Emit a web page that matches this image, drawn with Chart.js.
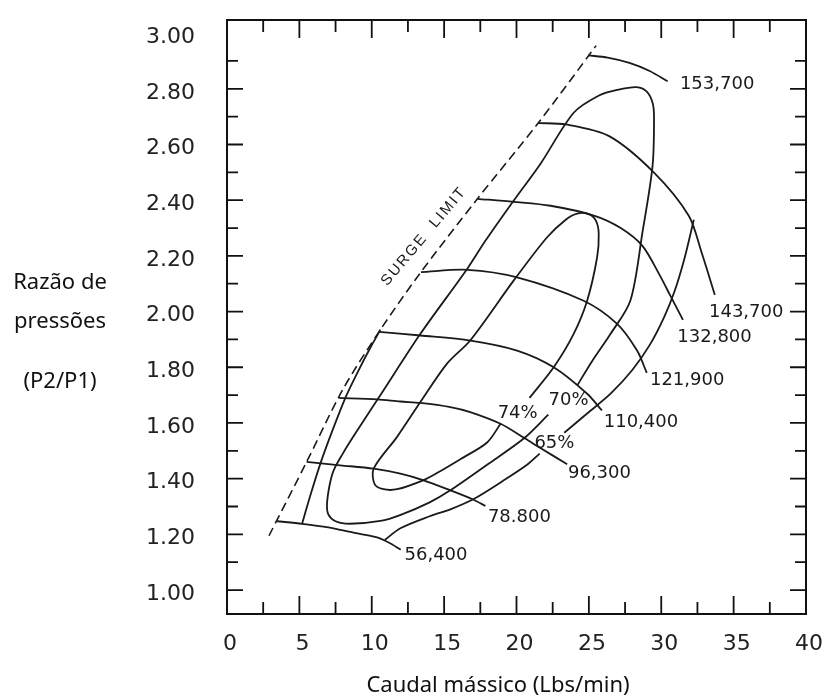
<!DOCTYPE html>
<html>
<head>
<meta charset="utf-8">
<script src="https://cdn.jsdelivr.net/npm/chart.js@4.4.0/dist/chart.umd.min.js"></script>
<style>
  body { margin: 0; background: #fff; }
  #wrap { width: 826px; height: 697px; }
</style>
</head>
<body>
<div id="wrap"><canvas id="myChart" width="826" height="697"></canvas></div>
<script>
// compressor map: surge line, speed lines (rpm) and efficiency islands
const surgeLimit = [[2.9,1.195],[5.5,1.46],[8.0,1.72],[10.6,1.935],[13.3,2.135],[17.3,2.405],[21.5,2.677],[25.5,2.955]];

const speed56400 = [[3.45,1.247],[5.2,1.238],[7.0,1.225],[8.8,1.205],[10.3,1.19],[11.2,1.17],[12.0,1.145]];
const speed78800 = [[5.5,1.46],[7.83,1.448],[10.13,1.436],[11.98,1.418],[13.59,1.394],[15.43,1.358],[17.0,1.325],[17.85,1.302]];
const speed96300 = [[7.7,1.69],[10.37,1.685],[11.98,1.677],[13.36,1.672],[15.43,1.657],[16.8,1.639],[18.9,1.597],[20.6,1.544],[21.65,1.51],[23.5,1.452]];
const speed110400 = [[10.5,1.927],[13.36,1.914],[16.82,1.896],[20.04,1.86],[22.57,1.8],[24.88,1.705],[25.9,1.645]];
const speed121900 = [[13.4,2.142],[16.59,2.15],[20.04,2.123],[24.64,2.039],[26.95,1.956],[28.33,1.86],[29.0,1.78]];
const speed132800 = [[17.3,2.405],[19.8,2.394],[22.35,2.38],[25.4,2.344],[27.2,2.3],[28.7,2.236],[29.9,2.13],[30.6,2.06],[31.5,1.97]];
const speed143700 = [[21.5,2.677],[23.41,2.672],[26.4,2.63],[29.5,2.499],[31.9,2.344],[32.8,2.21],[33.7,2.06]];
const speed153700 = [[24.95,2.92],[26.3,2.912],[27.8,2.893],[29.2,2.864],[30.44,2.827]];

const eff74 = [[18.9,1.597],[17.97,1.53],[16.12,1.47],[14.5,1.42],[13.59,1.395],[11.75,1.362],[10.8,1.362],[10.2,1.38],[10.13,1.436],[11.75,1.55],[13.36,1.675],[15.2,1.813],[16.8,1.896],[19.8,2.111],[22.1,2.266],[23.4,2.33],[24.19,2.352],[25.0,2.35],[25.5,2.325],[25.68,2.28],[25.57,2.195],[24.88,2.039],[23.95,1.92],[22.57,1.8],[20.9,1.69]];
const eff70 = [[22.2,1.63],[20.5,1.544],[17.97,1.45],[15.43,1.358],[14.0,1.315],[12.0,1.27],[10.6,1.248],[8.5,1.238],[7.5,1.247],[7.0,1.272],[6.91,1.31],[7.1,1.38],[7.37,1.43],[8.0,1.49],[8.75,1.553],[10.6,1.7],[13.36,1.92],[16.59,2.153],[17.85,2.254],[19.8,2.398],[21.65,2.53],[23.95,2.714],[25.7,2.776],[26.95,2.796],[28.3,2.806],[29.0,2.79],[29.4,2.75],[29.5,2.7],[29.4,2.523],[28.7,2.284],[27.87,2.04],[26.5,1.92],[25.2,1.82],[24.2,1.735]];
const eff65left = [[5.18,1.237],[5.7,1.33],[6.45,1.454],[7.3,1.575],[8.2,1.693],[9.1,1.79],[9.9,1.87],[10.6,1.935]];
const eff65low = [[10.9,1.18],[11.98,1.222],[14.0,1.265],[15.43,1.29],[17.04,1.327],[19.0,1.39],[20.73,1.45],[21.6,1.49]];
const eff65high = [[23.3,1.565],[24.9,1.635],[26.5,1.705],[28.0,1.79],[29.25,1.884],[30.2,1.98],[30.9,2.07],[31.6,2.19],[32.25,2.33]];

const speedNames = ['56,400', '78.800', '96,300', '110,400', '121,900', '132,800', '143,700', '153,700'];
const speedNameAt = [[14.44,1.125],[20.2,1.26],[25.73,1.418],[28.6,1.603],[31.79,1.753],[33.68,1.908],[35.87,1.998],[33.86,2.816]];
const effNames = ['74%', '70%', '65%'];
const effNameAt = [[20.08,1.635],[23.6,1.681],[22.62,1.526]];
const surgeText = 'SURGE  LIMIT';
const surgeTextAt = [13.6, 2.27];

const xTicks = [0, 5, 10, 15, 20, 25, 30, 35, 40];
const yTicks = [1.0, 1.2, 1.4, 1.6, 1.8, 2.0, 2.2, 2.4, 2.6, 2.8, 3.0];

function toPts(arr) {
    return arr.map(p => ({ x: p[0], y: p[1] }));
}

function line(data, dash) {
    return {
        data: toPts(data),
        showLine: true,
        borderColor: '#1a1a1a',
        borderWidth: dash ? 1.6 : 1.8,
        borderDash: dash ? [9, 5] : [],
        pointRadius: 0,
        tension: 0.3,
        fill: false
    };
}

const frame = {
    id: 'frame',
    afterDraw(chart) {
        let ctx = chart.ctx;
        let a = chart.chartArea;
        let xs = chart.scales.x, ys = chart.scales.y;
        ctx.save();
        ctx.strokeStyle = '#111';
        ctx.lineWidth = 2;
        ctx.strokeRect(a.left, a.top, a.right - a.left, a.bottom - a.top);
        ctx.lineWidth = 1.8;
        ctx.beginPath();
        for (let k = 1; k < 16; k++) {
            let px = xs.getPixelForValue(k * 2.5);
            let len = k % 2 === 0 ? 18 : 12;
            ctx.moveTo(px, a.bottom); ctx.lineTo(px, a.bottom - len);
            ctx.moveTo(px, a.top); ctx.lineTo(px, a.top + len);
        }
        for (let k = 0; k < 20; k++) {
            let py = ys.getPixelForValue(1.0 + k * 0.1);
            let len = k % 2 === 0 ? 16 : 11;
            ctx.moveTo(a.left, py); ctx.lineTo(a.left + len, py);
            ctx.moveTo(a.right, py); ctx.lineTo(a.right - len, py);
        }
        ctx.stroke();

        // axis titles
        ctx.fillStyle = '#111';
        ctx.font = '22px "Noto Sans"';
        ctx.textAlign = 'center';
        ctx.textBaseline = 'middle';
        ctx.fillText('Razão de', 60, 283);
        ctx.fillText('pressões', 60, 322);
        ctx.fillText('(P2/P1)', 60, 382);
        ctx.fillText('Caudal mássico (Lbs/min)', 498, 686);
        ctx.restore();
    },
    afterDatasetsDraw(chart) {
        let ctx = chart.ctx;
        let xs = chart.scales.x, ys = chart.scales.y;
        ctx.save();
        ctx.fillStyle = '#1a1a1a';
        ctx.font = '18px "DejaVu Sans"';
        ctx.textAlign = 'center';
        ctx.textBaseline = 'middle';
        for (let i = 0; i < speedNames.length; i++) {
            ctx.fillText(speedNames[i], xs.getPixelForValue(speedNameAt[i][0]), ys.getPixelForValue(speedNameAt[i][1]));
        }
        for (let i = 0; i < effNames.length; i++) {
            ctx.fillText(effNames[i], xs.getPixelForValue(effNameAt[i][0]), ys.getPixelForValue(effNameAt[i][1]));
        }
        ctx.translate(xs.getPixelForValue(surgeTextAt[0]), ys.getPixelForValue(surgeTextAt[1]));
        ctx.rotate(-50 * Math.PI / 180);
        ctx.font = '15px "Liberation Sans"';
        ctx.letterSpacing = '2px';
        ctx.fillText(surgeText, 0, 0);
        ctx.restore();
    }
};

let ctx = document.getElementById('myChart').getContext('2d');
let myChart = new Chart(ctx, {
    type: 'scatter',
    data: {
        datasets: [
            line(surgeLimit, true),
            line(speed56400), line(speed78800), line(speed96300), line(speed110400),
            line(speed121900), line(speed132800), line(speed143700), line(speed153700),
            line(eff74), line(eff70), line(eff65left), line(eff65low), line(eff65high)
        ]
    },
    options: {
        responsive: false,
        devicePixelRatio: 1,
        animation: false,
        layout: { padding: { left: 0, right: 20, top: 20, bottom: 0 } },
        plugins: { legend: { display: false }, tooltip: { enabled: false } },
        scales: {
            x: {
                type: 'linear',
                min: 0,
                max: 40,
                afterFit: (s) => { s.height = 83; s.paddingLeft = 0; s.paddingRight = 0; },
                grid: { display: false },
                border: { display: false },
                afterBuildTicks: (s) => { s.ticks = xTicks.map(v => ({ value: v })); },
                ticks: {
                    color: '#222',
                    font: { family: 'DejaVu Sans', size: 22 },
                    padding: 9,
                    labelOffset: 3,
                    maxRotation: 0,
                    callback: (v) => String(v)
                }
            },
            y: {
                type: 'linear',
                min: 0.914,
                max: 3.047,
                afterFit: (s) => { s.width = 227; s.paddingTop = 0; s.paddingBottom = 0; },
                grid: { display: false },
                border: { display: false },
                afterBuildTicks: (s) => { s.ticks = yTicks.map(v => ({ value: v })); },
                ticks: {
                    color: '#222',
                    font: { family: 'DejaVu Sans', size: 22 },
                    padding: 24,
                    labelOffset: 4,
                    callback: (v) => Number(v).toFixed(2)
                }
            }
        }
    },
    plugins: [frame]
});
</script>
</body>
</html>
